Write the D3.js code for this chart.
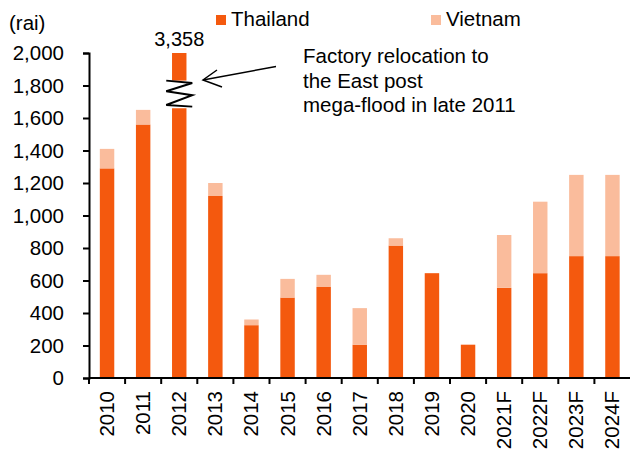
<!DOCTYPE html>
<html>
<head>
<meta charset="utf-8">
<script src="https://cdn.jsdelivr.net/npm/d3@7"></script>
<style>
  body { margin: 0; background: #fff; }
  text { font-family: "Liberation Sans", Arial, sans-serif; fill: #000; }
</style>
</head>
<body>
<script>
// values in rai
const years = ["2010", "2011", "2012", "2013", "2014", "2015", "2016", "2017",
  "2018", "2019", "2020", "2021F", "2022F", "2023F", "2024F"];
const thailand = [1290, 1560, 3358, 1120, 325, 495, 560, 205, 815, 645, 205, 555, 645, 750, 750];
const vietnam = [120, 90, 0, 80, 35, 115, 75, 225, 45, 0, 0, 325, 440, 500, 500];
const yTicks = [0, 200, 400, 600, 800, 1000, 1200, 1400, 1600, 1800, 2000];

var width = 630;
var height = 453;
var cap = 2000;

var margin = { left: 89, right: 0, top: 53, bottom: 75 };

var svg = d3.select("body")
  .append("svg")
  .attr("width", width)
  .attr("height", height);

var x = d3.scaleBand()
  .domain(years)
  .range([margin.left, 630.5])
  .paddingInner(0.6)
  .paddingOuter(0.3);

var y = d3.scaleLinear()
  .domain([0, cap])
  .range([height - margin.bottom, margin.top]);

var rows = years.map(function(d, i) {
  return { year: d, th: thailand[i], vn: vietnam[i] };
});

// bars
var g = svg.append("g");
g.selectAll("rect.th")
  .data(rows)
  .enter()
  .append("rect")
  .attr("class", "th")
  .attr("x", function(d) { return x(d.year); })
  .attr("width", x.bandwidth())
  .attr("y", function(d) { return y(Math.min(d.th, cap)); })
  .attr("height", function(d) { return y(0) - y(Math.min(d.th, cap)); })
  .attr("fill", "#f4590e");

g.selectAll("rect.vn")
  .data(rows.filter(function(d) { return d.vn > 0; }))
  .enter()
  .append("rect")
  .attr("class", "vn")
  .attr("x", function(d) { return x(d.year); })
  .attr("width", x.bandwidth())
  .attr("y", function(d) { return y(d.th + d.vn); })
  .attr("height", function(d) { return y(d.th) - y(d.th + d.vn); })
  .attr("fill", "#fabc9c");

// broken bar for 2012
var big = rows[2];
var bx = x(big.year) + x.bandwidth() / 2;
var b0 = y(1830), b1 = y(1660);
svg.append("rect")
  .attr("x", x(big.year) - 1)
  .attr("width", x.bandwidth() + 2)
  .attr("y", b0)
  .attr("height", b1 - b0)
  .attr("fill", "#fff");
var zz = [
  [bx - 13, y(1830)], [bx + 13, y(1815)], [bx - 13, y(1765)],
  [bx + 13, y(1740)], [bx - 13, y(1680)], [bx + 13, y(1670)]
];
svg.append("path")
  .attr("d", d3.line()(zz))
  .attr("fill", "none")
  .attr("stroke", "#000")
  .attr("stroke-width", 2);

svg.append("text")
  .attr("x", bx)
  .attr("y", y(cap) - 7)
  .attr("text-anchor", "middle")
  .attr("font-size", 20)
  .text(d3.format(",")(big.th));

// y axis
var yAxis = svg.append("g")
  .attr("transform", "translate(" + margin.left + ",0)")
  .call(d3.axisLeft(y).tickValues(yTicks).tickFormat(d3.format(",")).tickSize(6).tickPadding(19));
yAxis.select(".domain").attr("stroke", "#000").attr("stroke-width", 2);
yAxis.selectAll(".tick line").attr("stroke", "#000").attr("stroke-width", 2);
yAxis.selectAll("text")
  .attr("font-size", 20.5)
  .attr("font-family", "Liberation Sans, Arial, sans-serif")
  .attr("fill", "#000");

// x axis
var base = y(0);
svg.append("line")
  .attr("x1", margin.left)
  .attr("x2", 630.5)
  .attr("y1", base)
  .attr("y2", base)
  .attr("stroke", "#000")
  .attr("stroke-width", 2);

var step = x.step();
svg.selectAll("line.xt")
  .data(years)
  .enter()
  .append("line")
  .attr("class", "xt")
  .attr("x1", function(d) { return x(d) - step * 0.3; })
  .attr("x2", function(d) { return x(d) - step * 0.3; })
  .attr("y1", base)
  .attr("y2", base + 6)
  .attr("stroke", "#000")
  .attr("stroke-width", 2);

svg.selectAll("text.xl")
  .data(years)
  .enter()
  .append("text")
  .attr("class", "xl")
  .attr("text-anchor", "end")
  .attr("font-size", 20.5)
  .attr("transform", function(d) {
    return "translate(" + (x(d) + x.bandwidth() / 2 + 7) + "," + (base + 13) + ") rotate(-90)";
  })
  .text(function(d) { return d; });

// unit
svg.append("text")
  .attr("x", 9)
  .attr("y", 30)
  .attr("font-size", 20.5)
  .text("(rai)");

// legend
var legend = [
  { name: "Thailand", color: "#f4590e", x: 216 },
  { name: "Vietnam", color: "#fabc9c", x: 431 }
];
var lg = svg.selectAll("g.lg")
  .data(legend)
  .enter()
  .append("g")
  .attr("class", "lg")
  .attr("transform", function(d) { return "translate(" + d.x + ",0)"; });
lg.append("rect")
  .attr("x", 0)
  .attr("y", 15)
  .attr("width", 10)
  .attr("height", 10)
  .attr("fill", function(d) { return d.color; });
lg.append("text")
  .attr("x", 15)
  .attr("y", 26)
  .attr("font-size", 20.5)
  .text(function(d) { return d.name; });

// annotation
var note = ["Factory relocation to", "the East post", "mega-flood in late 2011"];
svg.selectAll("text.note")
  .data(note)
  .enter()
  .append("text")
  .attr("class", "note")
  .attr("x", 303)
  .attr("y", function(d, i) { return 63 + i * 24.5; })
  .attr("font-size", 20.5)
  .text(function(d) { return d; });

svg.append("line")
  .attr("x1", 276)
  .attr("y1", 66.5)
  .attr("x2", 203)
  .attr("y2", 80)
  .attr("stroke", "#000")
  .attr("stroke-width", 1.5);
svg.append("path")
  .attr("d", "M217,70 L203,80 L222,87")
  .attr("fill", "none")
  .attr("stroke", "#000")
  .attr("stroke-width", 1.5);
</script>
</body>
</html>
